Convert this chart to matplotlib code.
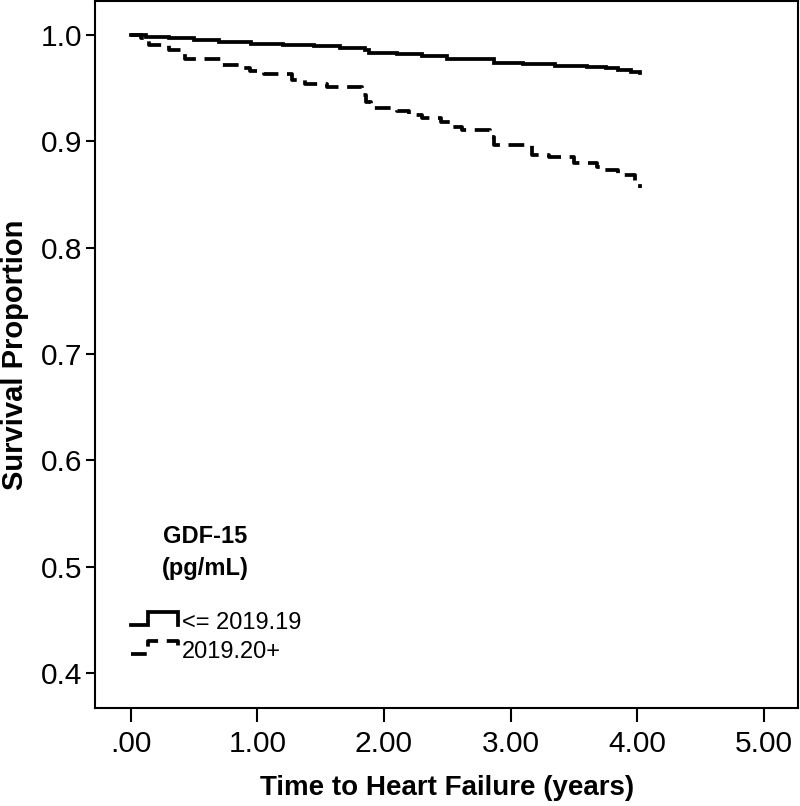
import numpy as np
import matplotlib
matplotlib.use("Agg")
import matplotlib.pyplot as plt
from matplotlib.lines import Line2D
from matplotlib.legend_handler import HandlerBase

plt.rcParams['font.family'] = ['Liberation Sans', 'DejaVu Sans']

# Kaplan-Meier step data
low_t = [0, 0.12, 0.3, 0.5, 0.7, 0.95, 1.2, 1.45, 1.65, 1.85, 1.88, 2.1, 2.3, 2.5,
         2.87, 3.1, 3.35, 3.6, 3.75, 3.85, 3.95, 4.02]
low_s = [1.0, 0.9985, 0.997, 0.9955, 0.994, 0.992, 0.991, 0.9895, 0.988, 0.986, 0.983,
         0.982, 0.9805, 0.978, 0.9735, 0.9725, 0.971, 0.970, 0.969, 0.967, 0.965, 0.9645]

high_t = [0, 0.08, 0.14, 0.30, 0.43, 0.72, 0.86, 0.94, 1.05, 1.27, 1.38, 1.55, 1.83,
          1.86, 1.90, 2.1, 2.2, 2.3, 2.45, 2.52, 2.62, 2.84, 2.87, 3.17, 3.3, 3.5,
          3.68, 3.72, 3.85, 3.98, 4.02]
high_s = [1.0, 0.997, 0.991, 0.986, 0.978, 0.972, 0.969, 0.966, 0.963, 0.958, 0.954,
          0.951, 0.944, 0.937, 0.931, 0.929, 0.925, 0.922, 0.918, 0.914, 0.911, 0.904,
          0.897, 0.887, 0.885, 0.880, 0.876, 0.873, 0.868, 0.862, 0.856]

group_labels = ['<= 2019.19', '2019.20+']
x_ticks = [0, 1, 2, 3, 4, 5]
x_ticklabels = ['.00', '1.00', '2.00', '3.00', '4.00', '5.00']
y_ticks = [0.4, 0.5, 0.6, 0.7, 0.8, 0.9, 1.0]


class StepHandler(HandlerBase):
    # little step symbol like the SPSS legend
    def create_artists(self, legend, orig_handle, xdescent, ydescent,
                       width, height, fontsize, trans):
        x0 = -xdescent
        xs = [x0, x0 + 0.36 * width, x0 + 0.36 * width, x0 + width, x0 + width]
        ys = [0.25 * height, 0.25 * height, 1.0 * height, 1.0 * height, 0.25 * height]
        ys = [y - ydescent for y in ys]
        line = Line2D(xs, ys)
        line.update_from(orig_handle)
        line.set_transform(trans)
        return [line]


fig = plt.figure(figsize=(8, 8.06), dpi=100)
ax = fig.add_axes([0.119, 0.1216, 0.8785, 0.877])

l1, = ax.step(low_t, low_s, where='post', color='black', lw=2.7,
              solid_joinstyle='miter', label=group_labels[0])
l2, = ax.step(high_t, high_s, where='post', color='black', lw=2.7,
              dashes=(4.2, 2.3), label=group_labels[1])

ax.set_xlim(-0.281, 5.27)
ax.set_ylim(0.367, 1.032)
ax.set_xticks(x_ticks)
ax.set_xticklabels(x_ticklabels)
ax.set_yticks(y_ticks)
ax.set_yticklabels(['%.1f' % v for v in y_ticks])

for sp in ax.spines.values():
    sp.set_linewidth(1.5)
ax.tick_params(axis='x', length=10, width=1.5, pad=6, labelsize=21.5)
ax.tick_params(axis='y', length=6.5, width=1.5, pad=3, labelsize=21.5)

ax.set_xlabel('Time to Heart Failure (years)', fontsize=20, fontweight='bold', labelpad=12)
ax.set_ylabel('Survival Proportion', fontsize=21, fontweight='bold', labelpad=8)

ax.text(0.156, 0.22, 'GDF-15\n(pg/mL)', transform=ax.transAxes, ha='center',
        va='center', fontsize=17, fontweight='bold', linespacing=1.45)

ax.legend(handles=[l1, l2], handler_map={Line2D: StepHandler()},
          loc='upper left', bbox_to_anchor=(0.051, 0.136), frameon=False,
          fontsize=17, borderpad=0, borderaxespad=0, handlelength=2.0,
          handletextpad=0.15, labelspacing=0.3)

fig.savefig('out.png', dpi=100)
